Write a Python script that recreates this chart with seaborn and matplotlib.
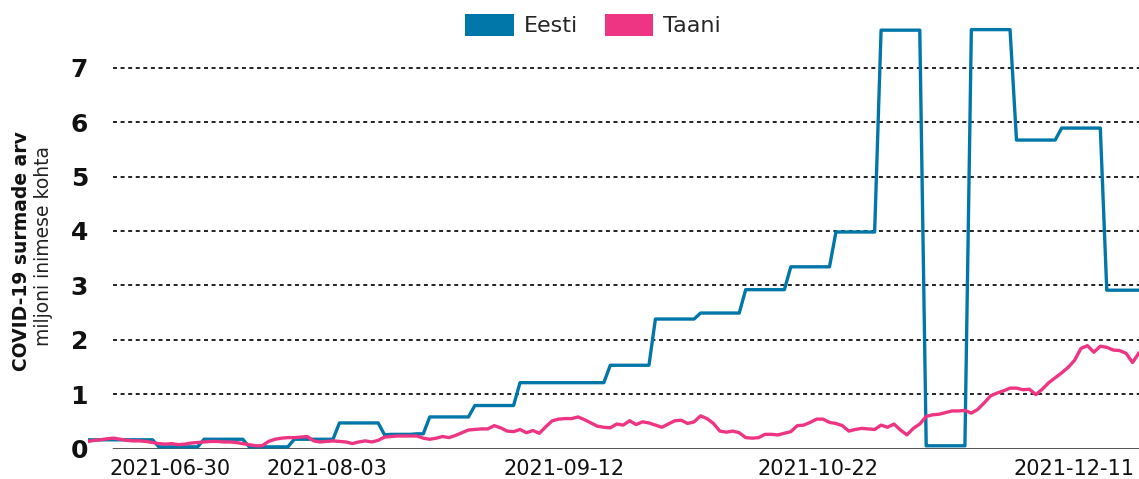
import numpy as np
import pandas as pd
import matplotlib
matplotlib.use("Agg")
import matplotlib.pyplot as plt
import matplotlib.patches as mpatches
import seaborn as sns

# COVID-19 deaths per million inhabitants, daily, two countries
eesti = [
    0.16, 0.16, 0.16, 0.16, 0.16, 0.16, 0.16, 0.16, 0.16, 0.16, 0.16,
    0.03, 0.03, 0.03, 0.03, 0.03, 0.03, 0.03,
    0.17, 0.17, 0.17, 0.17, 0.17, 0.17, 0.17,
    0.03, 0.03, 0.03, 0.03, 0.03, 0.03, 0.03,
    0.17, 0.17, 0.17, 0.17, 0.17, 0.17, 0.17,
    0.47, 0.47, 0.47, 0.47, 0.47, 0.47, 0.47,
    0.25, 0.26, 0.26, 0.26, 0.26, 0.27, 0.27,
    0.58, 0.58, 0.58, 0.58, 0.58, 0.58, 0.58,
    0.79, 0.79, 0.79, 0.79, 0.79, 0.79, 0.79,
    1.21, 1.21, 1.21, 1.21, 1.21, 1.21, 1.21,
    1.21, 1.21, 1.21, 1.21, 1.21, 1.21, 1.21,
    1.53, 1.53, 1.53, 1.53, 1.53, 1.53, 1.53,
    2.38, 2.38, 2.38, 2.38, 2.38, 2.38, 2.38,
    2.49, 2.49, 2.49, 2.49, 2.49, 2.49, 2.49,
    2.92, 2.92, 2.92, 2.92, 2.92, 2.92, 2.92,
    3.34, 3.34, 3.34, 3.34, 3.34, 3.34, 3.34,
    3.98, 3.98, 3.98, 3.98, 3.98, 3.98, 3.98,
    7.69, 7.69, 7.69, 7.69, 7.69, 7.69, 7.69,
    0.05, 0.05, 0.05, 0.05, 0.05, 0.05, 0.05,
    7.70, 7.70, 7.70, 7.70, 7.70, 7.70, 7.70,
    5.67, 5.67, 5.67, 5.67, 5.67, 5.67, 5.67,
    5.89, 5.89, 5.89, 5.89, 5.89, 5.89, 5.89,
    2.91, 2.91, 2.91, 2.91, 2.91, 2.91,
]
taani = [
    0.13, 0.15, 0.16, 0.18, 0.19, 0.17, 0.15, 0.14, 0.14, 0.13,
    0.11, 0.09, 0.08, 0.09, 0.07, 0.08, 0.10, 0.11, 0.12, 0.13,
    0.13, 0.12, 0.12, 0.11, 0.09, 0.07, 0.05, 0.05, 0.13, 0.17,
    0.19, 0.20, 0.20, 0.21, 0.22, 0.14, 0.12, 0.13, 0.14, 0.13,
    0.12, 0.09, 0.12, 0.14, 0.12, 0.15, 0.21, 0.22, 0.23, 0.23,
    0.23, 0.23, 0.19, 0.17, 0.19, 0.22, 0.20, 0.24, 0.29, 0.34,
    0.35, 0.36, 0.36, 0.42, 0.38, 0.32, 0.31, 0.35, 0.29, 0.33,
    0.28, 0.40, 0.51, 0.54, 0.55, 0.55, 0.58, 0.53, 0.47, 0.41,
    0.39, 0.38, 0.45, 0.43, 0.51, 0.44, 0.49, 0.47, 0.43, 0.39,
    0.45, 0.51, 0.52, 0.46, 0.49, 0.60, 0.55, 0.46, 0.32, 0.30,
    0.32, 0.29, 0.20, 0.19, 0.20, 0.26, 0.26, 0.25, 0.28, 0.31,
    0.42, 0.43, 0.48, 0.54, 0.54, 0.48, 0.46, 0.42, 0.32, 0.35,
    0.37, 0.36, 0.35, 0.43, 0.39, 0.45, 0.34, 0.25, 0.37, 0.45,
    0.59, 0.62, 0.63, 0.66, 0.69, 0.69, 0.70, 0.65, 0.72, 0.84,
    0.97, 1.02, 1.06, 1.11, 1.11, 1.08, 1.09, 0.99, 1.09, 1.21,
    1.30, 1.39, 1.49, 1.62, 1.84, 1.89, 1.77, 1.88, 1.86, 1.81,
    1.80, 1.75, 1.58, 1.76,
]
countries = ["Eesti", "Taani"]
tick_labels = ["2021-06-30", "2021-08-03", "2021-09-12", "2021-10-22", "2021-12-11"]
tick_pos = [12.7, 37.1, 73.8, 113.2, 152.9]
y_ticks = [0, 1, 2, 3, 4, 5, 6, 7]

colors = {"Eesti": "#0077A8", "Taani": "#EE3584"}

n = len(taani)
day = np.arange(n)
df = pd.DataFrame({
    "päev": np.concatenate([day, day]),
    "väärtus": np.concatenate([eesti, taani]),
    "riik": ["Eesti"] * n + ["Taani"] * n,
})

sns.set_theme(style="white")
plt.rcParams["font.family"] = ["DejaVu Sans"]

W, H = 1139, 479
fig = plt.figure(figsize=(W / 100, H / 100), dpi=100)
ax = fig.add_axes([88 / W, 30.5 / H, 1051 / W, 421.6 / H])

# dotted grid and solid zero line, starting a little right of the axes edge
grid_start = 25 / 1051
for v in y_ticks[1:]:
    ax.axhline(v, xmin=grid_start, xmax=1, color="#111111", lw=1.3,
               linestyle=(0, (2.2, 2.0)), zorder=1)
ax.axhline(0, xmin=grid_start, xmax=1, color="#222222", lw=1.8, zorder=1)

sns.lineplot(data=df, x="päev", y="väärtus", hue="riik", hue_order=countries,
             palette=colors, linewidth=2.4, estimator=None, legend=False,
             ax=ax, zorder=3)

ax.set_xlim(0, n - 1)
ax.set_ylim(0, 7.75)
for s in ax.spines.values():
    s.set_visible(False)

ax.set_yticks(y_ticks)
ax.set_yticklabels([str(t) for t in y_ticks], fontsize=18, fontweight="bold",
                   color="#111111")
ax.set_xticks(tick_pos)
ax.set_xticklabels(tick_labels, fontsize=15, color="#111111")
ax.tick_params(axis="y", length=0, pad=0)
ax.tick_params(axis="x", length=0, pad=7.5)
ax.set_xlabel("")
ax.set_ylabel("")
ax.grid(False)

fig.text(21.5 / W, 1 - 251 / H, "COVID-19 surmade arv", rotation=90,
         ha="center", va="center", fontsize=13.5, fontweight="bold",
         color="#111111")
fig.text(44 / W, 1 - 246 / H, "miljoni inimese kohta", rotation=90,
         ha="center", va="center", fontsize=13.5, color="#222222")

handles = [mpatches.Patch(facecolor=colors[c], edgecolor="none", label=c)
           for c in countries]
fig.legend(handles=handles, loc="center", bbox_to_anchor=(593 / W, 1 - 25 / H),
           ncol=2, frameon=False, fontsize=16, handlelength=2.2,
           handleheight=1.15, handletextpad=0.45, columnspacing=1.2)

fig.savefig("out.png", dpi=100)
